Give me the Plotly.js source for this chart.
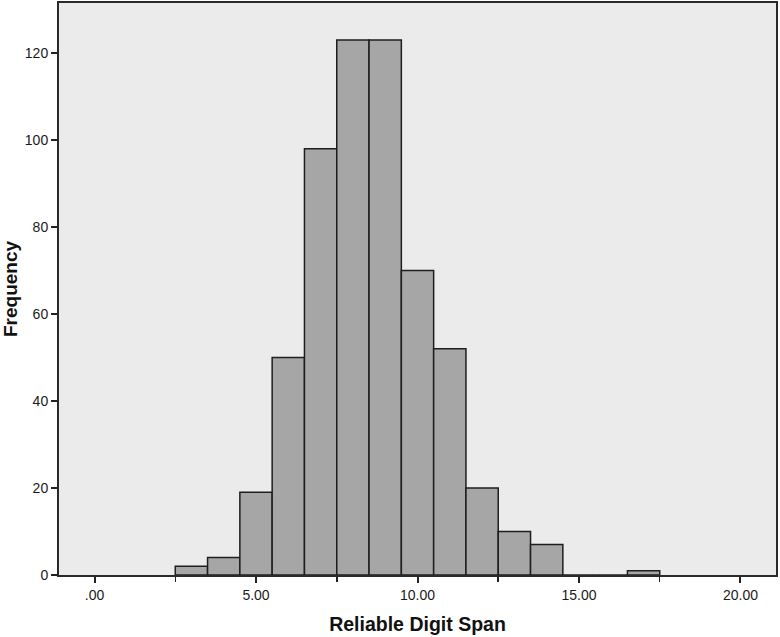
<!DOCTYPE html>
<html>
<head>
<meta charset="utf-8">
<script src="https://cdn.plot.ly/plotly-3.0.1.min.js"></script>
<style>html,body{margin:0;padding:0;background:#fff;}#chart{width:780px;height:637px;}</style>
</head>
<body>
<div id="chart"></div>
<script>
const binCenters = [3, 4, 5, 6, 7, 8, 9, 10, 11, 12, 13, 14, 15, 16, 17];
const frequencies = [2, 4, 19, 50, 98, 123, 123, 70, 52, 20, 10, 7, 0, 0, 1];
const xTickVals = [0, 5, 10, 15, 20];
const xTickText = ['.00', '5.00', '10.00', '15.00', '20.00'];
const yTickVals = [0, 20, 40, 60, 80, 100, 120];

const trace = {
  type: 'bar',
  x: binCenters,
  y: frequencies,
  width: 1,
  marker: {color: '#a6a6a6', line: {color: '#1e1e1e', width: 1.5}},
  hoverinfo: 'x+y'
};

const layout = {
  width: 780, height: 637,
  margin: {l: 59, r: 4, t: 3, b: 62},
  paper_bgcolor: '#ffffff',
  plot_bgcolor: '#ebebeb',
  font: {family: 'Liberation Sans, Arial, sans-serif', color: '#1a1a1a', size: 14},
  showlegend: false,
  bargap: 0,
  xaxis: {
    range: [-1.1, 21.1],
    tickvals: xTickVals, ticktext: xTickText,
    ticks: 'outside', ticklen: 6, tickwidth: 2, tickcolor: '#222',
    minor: {tick0: 2.5, dtick: 5, ticks: 'outside', ticklen: 5, tickwidth: 1.5, tickcolor: '#222', showgrid: false},
    showgrid: false, zeroline: false,
    showline: true, linecolor: '#2a2a2a', linewidth: 2, mirror: true,
    tickfont: {size: 14},
    title: {text: '<b>Reliable Digit Span</b>', font: {size: 19.5, color: '#111'}, standoff: 16}
  },
  yaxis: {
    range: [0, 131.5],
    tickvals: yTickVals,
    ticks: 'outside', ticklen: 6, tickwidth: 2, tickcolor: '#222',
    showgrid: false, zeroline: false,
    showline: true, linecolor: '#2a2a2a', linewidth: 2, mirror: true,
    tickfont: {size: 14},
    title: {text: '<b>Frequency</b>', font: {size: 19, color: '#111'}, standoff: 8}
  }
};

Plotly.newPlot('chart', [trace], layout, {displayModeBar: false, staticPlot: true});
</script>
</body>
</html>
